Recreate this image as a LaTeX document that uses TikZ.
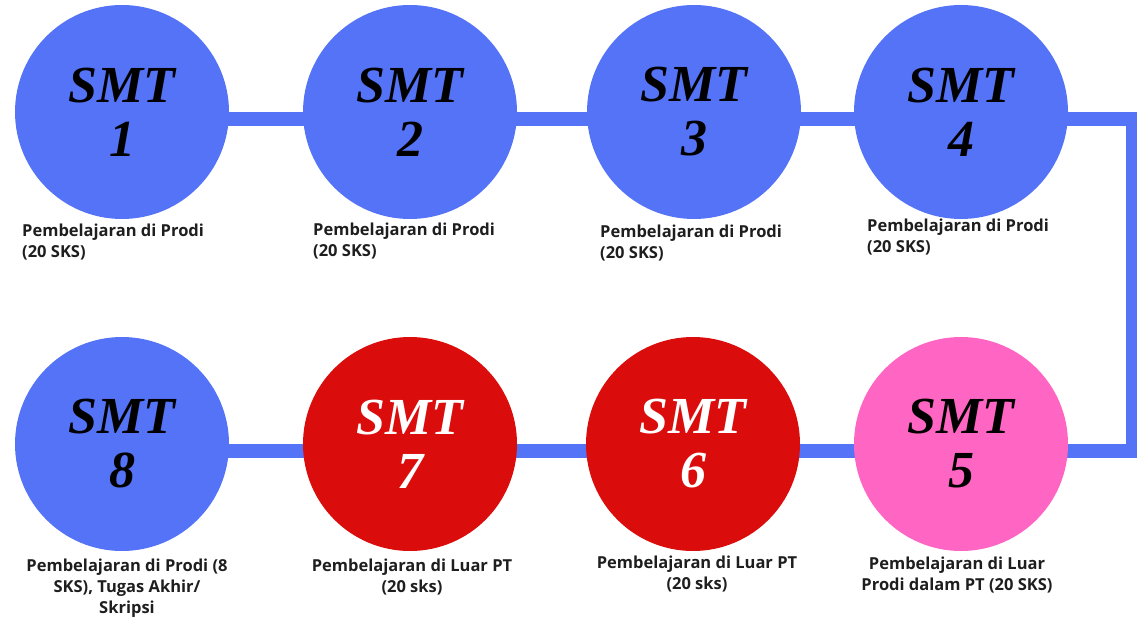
\documentclass[tikz,border=0pt]{standalone}
\usepackage{fontspec}
\setmainfont{Liberation Serif}
\newfontfamily\lblfont{Open Sans}
\usetikzlibrary{backgrounds}
\definecolor{cblue}{HTML}{5573F7}
\definecolor{cred}{HTML}{DB0C0C}
\definecolor{cpink}{HTML}{FF66C4}
\definecolor{ctext}{HTML}{1E1E1E}
\begin{document}
\begin{tikzpicture}[x=1pt,y=-1pt,
  sem/.style={circle, minimum size=214pt, inner sep=0pt, align=center,
    font=\fontsize{52}{54}\selectfont\bfseries\itshape},
  lbl/.style={font=\lblfont\bfseries\fontsize{16.5}{21}\selectfont, text=ctext, inner sep=0pt},
  link/.style={draw=cblue, line width=14pt, line join=miter}]
\useasboundingbox (0,0) rectangle (1137,620);
% circles
\node[sem, fill=cblue]  (s1) at (122,112) {SMT\\1};
\node[sem, fill=cblue]  (s2) at (410,112) {SMT\\2};
\node[sem, fill=cblue]  (s3) at (694,112) {SMT\\3};
\node[sem, fill=cblue]  (s4) at (961,112) {SMT\\4};
\node[sem, fill=cpink]  (s5) at (961,444) {SMT\\5};
\node[sem, fill=cred, text=white] (s6) at (693,444) {SMT\\6};
\node[sem, fill=cred, text=white] (s7) at (410,444) {SMT\\7};
\node[sem, fill=cblue]  (s8) at (122,444) {SMT\\8};
\coordinate (k1) at (1133,119);
\coordinate (k2) at (1133,451);
% connector
\begin{scope}[on background layer]
\draw[link] ([yshift=-7pt]s1.center) -- ([yshift=-7pt]s2.center) -- ([yshift=-7pt]s3.center)
  -- ([yshift=-7pt]s4.center) -- (k1) -- (k2) -- ([yshift=-7pt]s5.center)
  -- ([yshift=-7pt]s6.center) -- ([yshift=-7pt]s7.center) -- ([yshift=-7pt]s8.center);
\end{scope}
% labels
\node[lbl, anchor=north west, align=left] (l1) at (22,224) {Pembelajaran di Prodi\\(20 SKS)};
\node[lbl, anchor=north west, align=left] (l2) at (313,223) {Pembelajaran di Prodi\\(20 SKS)};
\node[lbl, anchor=north west, align=left] (l3) at (600,225) {Pembelajaran di Prodi\\(20 SKS)};
\node[lbl, anchor=north west, align=left] (l4) at (867,219) {Pembelajaran di Prodi\\(20 SKS)};
\node[lbl, anchor=north, align=center] (l5) at (957,557) {Pembelajaran di Luar\\Prodi dalam PT (20 SKS)};
\node[lbl, anchor=north, align=center] (l6) at (697,556) {Pembelajaran di Luar PT\\(20 sks)};
\node[lbl, anchor=north, align=center] (l7) at (412,559) {Pembelajaran di Luar PT\\(20 sks)};
\node[lbl, anchor=north, align=center] (l8) at (127,559) {Pembelajaran di Prodi (8\\SKS), Tugas Akhir/\\Skripsi};
\end{tikzpicture}
\end{document}
